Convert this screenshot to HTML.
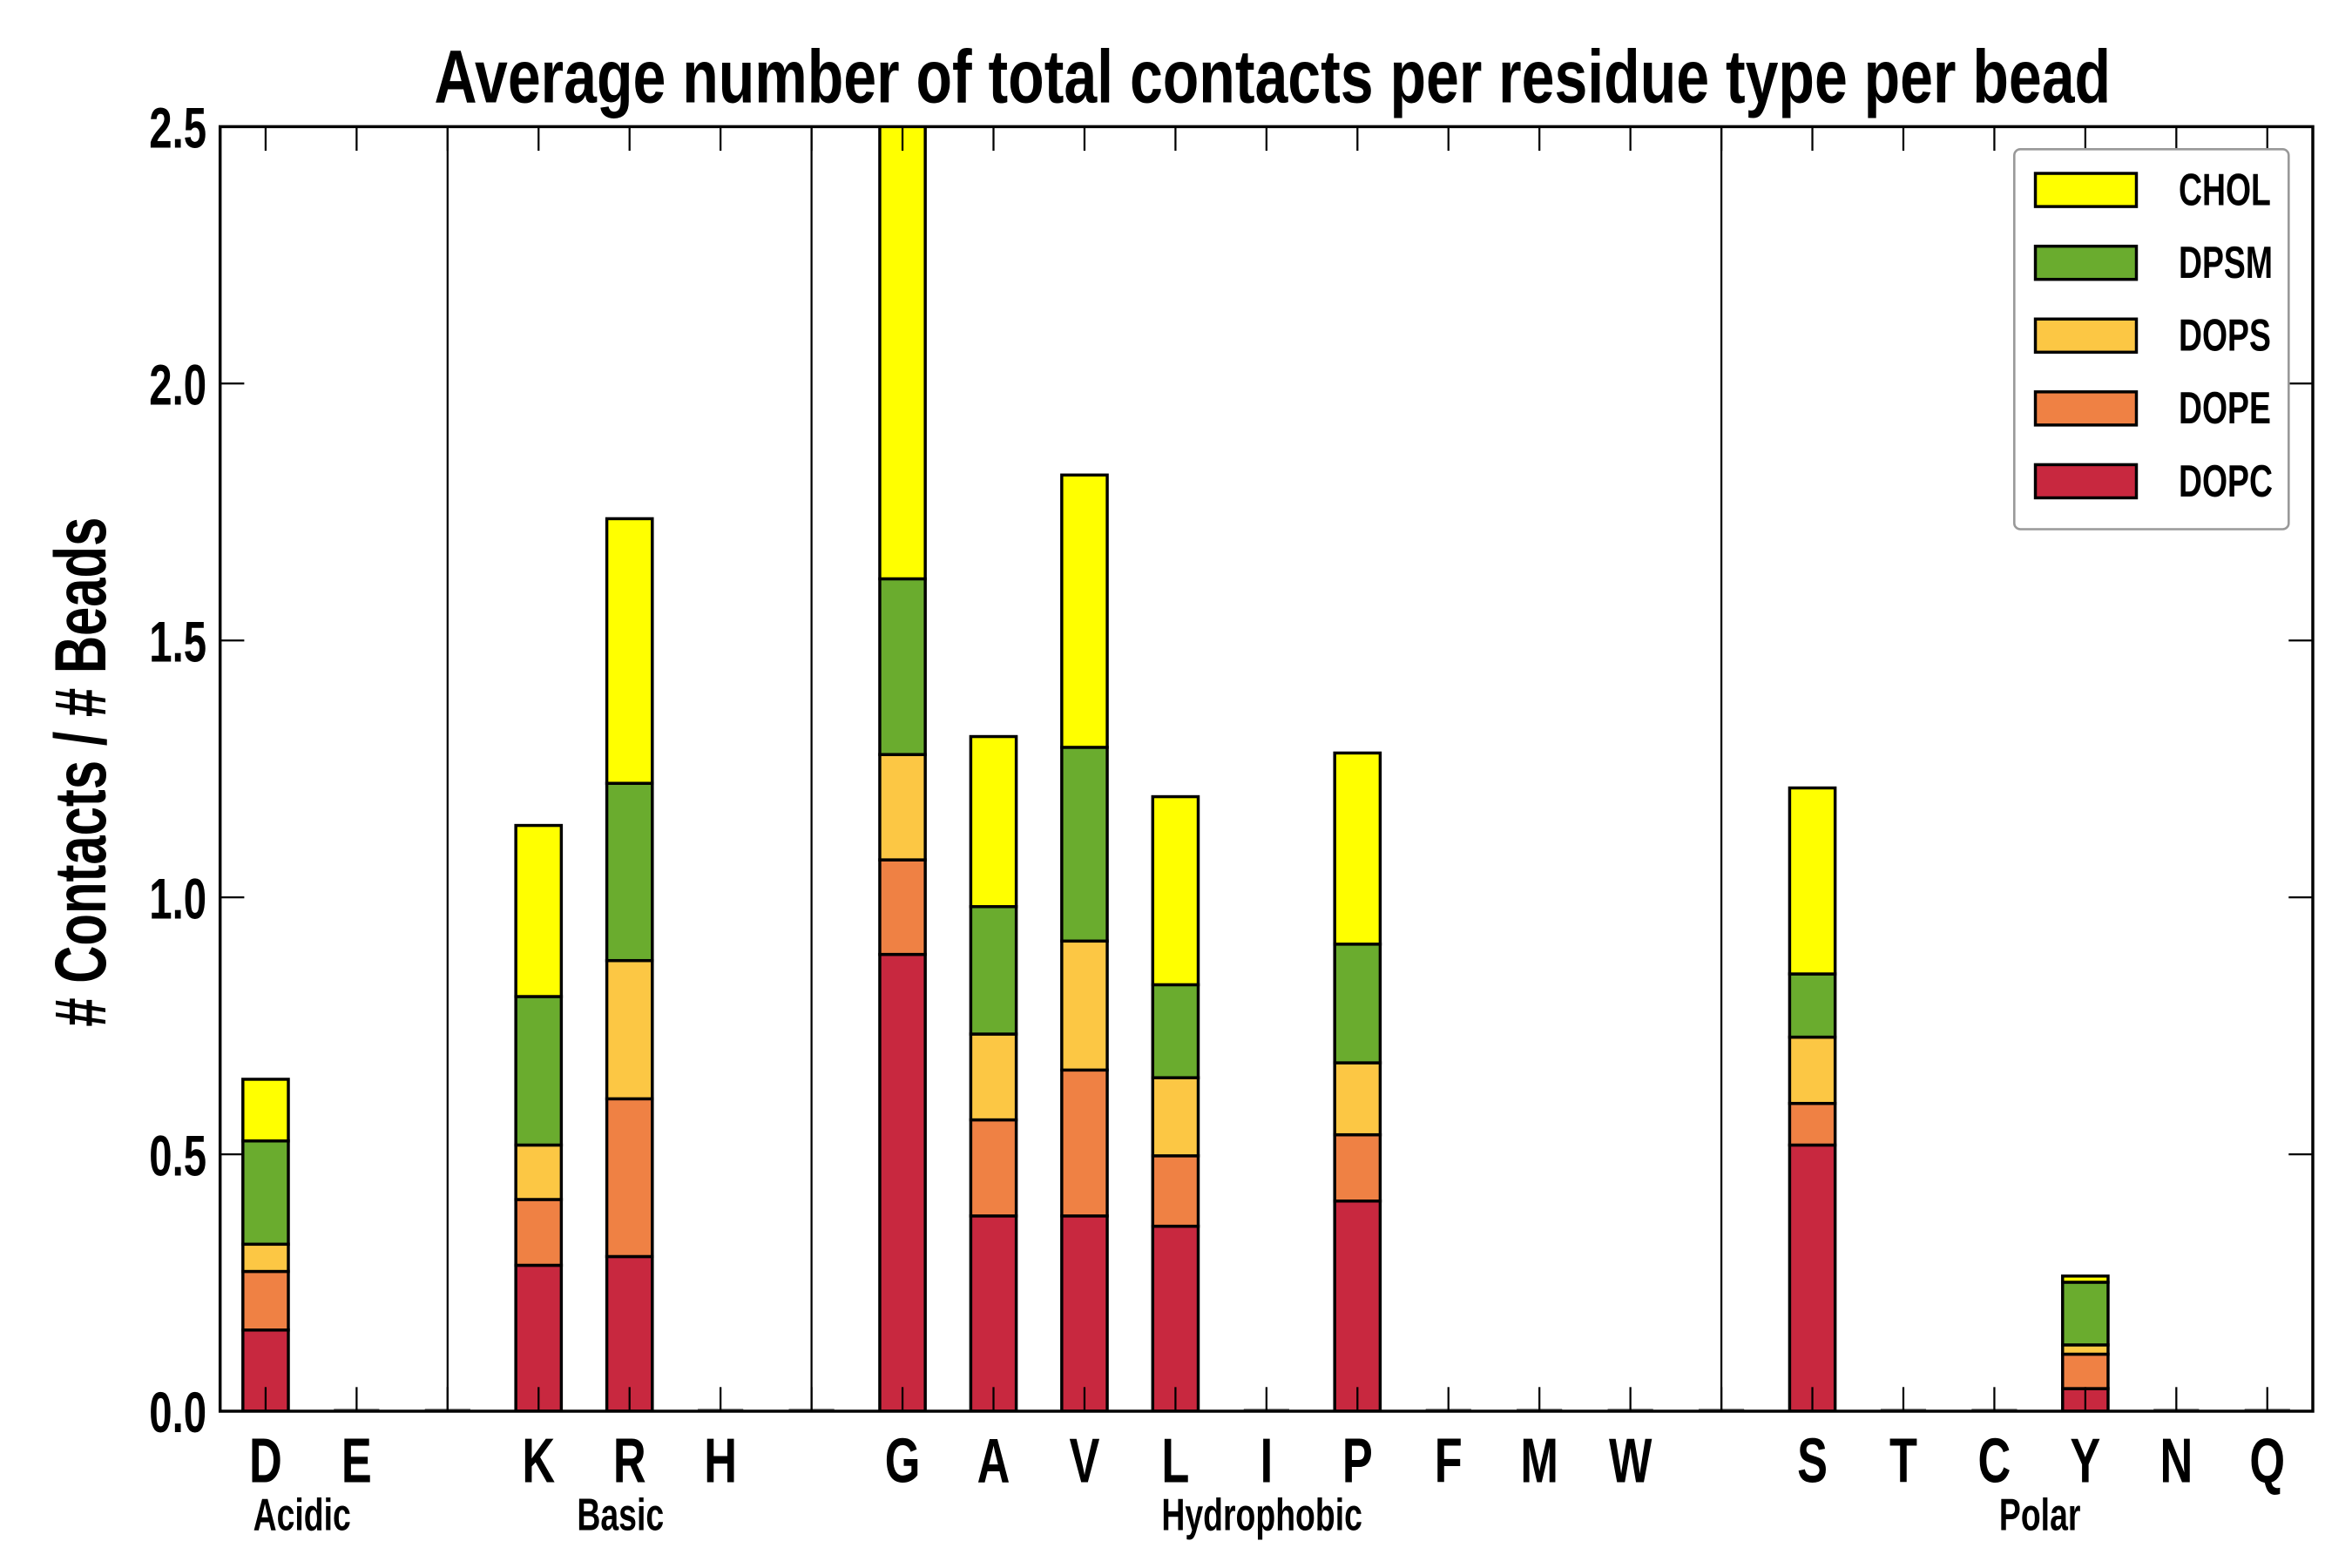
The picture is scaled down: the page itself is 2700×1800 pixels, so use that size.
<!DOCTYPE html>
<html><head><meta charset="utf-8"><style>
html,body{margin:0;padding:0;background:#fff}
svg{display:block}
text{font-family:"Liberation Sans Narrow","Liberation Sans",sans-serif;font-weight:bold;fill:#000}
</style></head><body>
<svg id="chart" width="2700" height="1800" viewBox="0 0 1560 1040" xmlns="http://www.w3.org/2000/svg">
<text x="288" y="68" font-size="50" textLength="1112" lengthAdjust="spacingAndGlyphs">Average number of total contacts per residue type per bead</text>
<text transform="translate(70,512) rotate(-90) scale(0.72,1)" font-size="48" text-anchor="middle"># Contacts / # Beads</text>
<g id="plot"></g>
</svg>
<script>
const categories = ["D","E","","K","R","H","","G","A","V","L","I","P","F","M","W","","S","T","C","Y","N","Q"];
const DOPC = [0.158,0,0,0.284,0.301,0,0,0.889,0.38,0.38,0.36,0,0.409,0,0,0,0,0.518,0,0,0.044,0,0];
const DOPE = [0.114,0,0,0.128,0.307,0,0,0.184,0.187,0.284,0.137,0,0.129,0,0,0,0,0.081,0,0,0.067,0,0];
const DOPS = [0.053,0,0,0.106,0.269,0,0,0.205,0.167,0.251,0.152,0,0.14,0,0,0,0,0.129,0,0,0.018,0,0];
const DPSM = [0.201,0,0,0.289,0.345,0,0,0.342,0.248,0.377,0.181,0,0.231,0,0,0,0,0.123,0,0,0.122,0,0];
const CHOL = [0.12,0,0,0.333,0.515,0,0,0.93,0.331,0.53,0.366,0,0.372,0,0,0,0,0.362,0,0,0.012,0,0];
const seriesNames = ["DOPC","DOPE","DOPS","DPSM","CHOL"];
const yTicks = [0,0.5,1,1.5,2,2.5];
const yTickLabels = ["0.0","0.5","1.0","1.5","2.0","2.5"];
const groupLabels = ["Acidic","Basic","Hydrophobic","Polar"];
const groupCenters = [0.4,3.9,10.95,19.5];
const separators = [2,6,16];

const colors = {DOPC:"#c8283f",DOPE:"#ef8144",DOPS:"#fcc744",DPSM:"#6aac2e",CHOL:"#ffff00"};
const seriesData = {DOPC,DOPE,DOPS,DPSM,CHOL};
const L=146,R=1534,T=84,B=936;
const SX=0.72;
const xs = i => L + (i+0.5)*(R-L)/categories.length;
const ys = v => B - (v/2.5)*(B-T);
const bw = 0.5*(R-L)/categories.length;
const NS="http://www.w3.org/2000/svg";
const g=document.getElementById('plot');
function mk(tag,attrs,parent){const e=document.createElementNS(NS,tag);for(const k in attrs)e.setAttribute(k,attrs[k]);(parent||g).appendChild(e);return e;}
function txt(x,y,size,anchor,str,parent){const t=mk('text',{transform:'translate('+x+','+y+') scale('+SX+',1)','font-size':size,'text-anchor':anchor},parent);t.textContent=str;return t;}
const defs=mk('defs',{});
const cp=mk('clipPath',{id:'clip'},defs);
mk('rect',{x:L,y:T,width:R-L,height:B-T},cp);
const bars=mk('g',{'clip-path':'url(#clip)'});


categories.forEach((c,i)=>{
  let cum=0;
  seriesNames.forEach(s=>{
    const v=seriesData[s][i];
    if(v<=0){return;}
    const r=mk('rect',{x:xs(i)-bw/2,y:ys(cum+v),width:bw,height:ys(cum)-ys(cum+v),fill:colors[s],stroke:'#000','stroke-width':2},bars);
    
    
    cum+=v;
  });
  if(cum===0){
    const z=mk('line',{x1:xs(i)-bw/2,x2:xs(i)+bw/2,y1:B-1,y2:B-1,stroke:'#888','stroke-width':1.5},bars);
    
    
  }
});
separators.forEach(i=>{
  const l=mk('line',{x1:xs(i),x2:xs(i),y1:T,y2:B,stroke:'#000','stroke-width':1.3});
  
  
});
categories.forEach((c,i)=>{
  mk('line',{x1:xs(i),x2:xs(i),y1:B,y2:B-16,stroke:'#000','stroke-width':1.3});
  mk('line',{x1:xs(i),x2:xs(i),y1:T,y2:T+16,stroke:'#000','stroke-width':1.3});
  if(c){
    const t=txt(xs(i),983,42,'middle',c);
    
    
  }
});
yTicks.forEach((v,k)=>{
  mk('line',{x1:L,x2:L+16,y1:ys(v),y2:ys(v),stroke:'#000','stroke-width':1.3});
  mk('line',{x1:R,x2:R-16,y1:ys(v),y2:ys(v),stroke:'#000','stroke-width':1.3});
  const t=txt(137,ys(v)+14,38,'end',yTickLabels[k]);
  
  
});
groupLabels.forEach((gl,k)=>{
  const t=txt(xs(groupCenters[k]),1015,30,'middle',gl);
  
  
});
const frame=mk('rect',{x:L,y:T,width:R-L,height:B-T,fill:'none',stroke:'#000','stroke-width':2});


const lg=mk('g',{});


mk('rect',{x:1336,y:99,width:182,height:252,rx:4,fill:'#fff',stroke:'#999','stroke-width':1.5},lg);
seriesNames.slice().reverse().forEach((s,k)=>{
  const cy=126+k*48.3;
  const e=mk('g',{},lg);
  
  
  mk('rect',{x:1350,y:cy-11,width:67,height:22,fill:colors[s],stroke:'#000','stroke-width':2},e);
  txt(1445,cy+10,30,'start',s,e);
});
</script>
</body></html>
